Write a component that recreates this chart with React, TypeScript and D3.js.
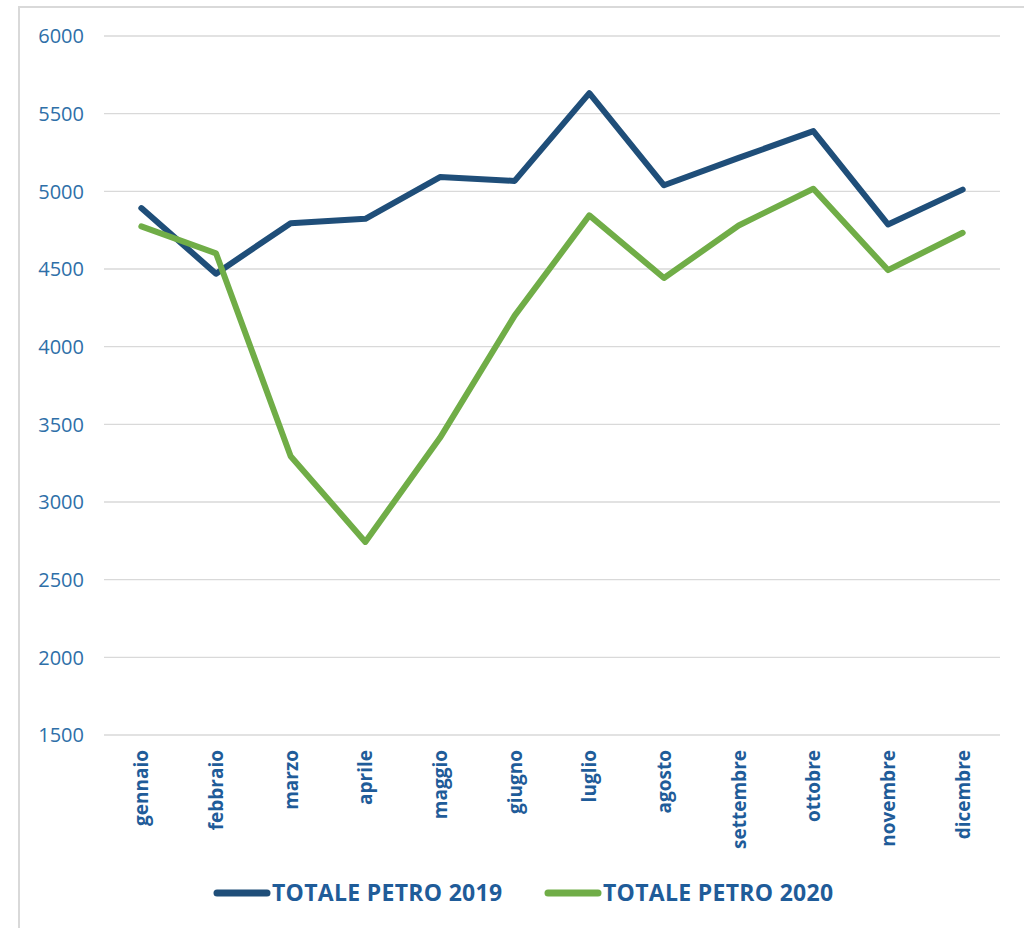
import * as d3 from "d3";

const months = ["gennaio", "febbraio", "marzo", "aprile", "maggio", "giugno", "luglio", "agosto", "settembre", "ottobre", "novembre", "dicembre"];
const petro2019 = [4892, 4470, 4795, 4823, 5092, 5067, 5632, 5039, 5215, 5388, 4787, 5011];
const petro2020 = [4774, 4601, 3295, 2743, 3413, 4200, 4845, 4442, 4780, 5017, 4493, 4733];
const yTicks = [1500, 2000, 2500, 3000, 3500, 4000, 4500, 5000, 5500, 6000];
const seriesNames = ["TOTALE PETRO 2019", "TOTALE PETRO 2020"];

const W = 1024;
const H = 928;
const colors = ["#1F4E79", "#70AD47"];
const labelBlue = "#2E6FA8";
const darkBlue = "#1F5C99";
const font = "'Open Sans', 'Noto Sans', sans-serif";

const x = d3.scaleBand<string>().domain(months).range([104, 1000]);
const y = d3.scaleLinear().domain([1500, 6000]).range([735, 36]);

const line = d3
  .line<number>()
  .x((_, i) => (x(months[i]) as number) + x.bandwidth() / 2)
  .y((d) => y(d));

export default function App() {
  const series = [petro2019, petro2020];
  const legendX = [217, 548];
  return (
    <svg width={W} height={H} style={{ position: "absolute", left: 0, top: 0, background: "#fff" }}>
      {/* chart frame */}
      <path d={`M19,${H} V7 H${W}`} fill="none" stroke="#D9D9D9" strokeWidth={2} />

      {/* grid + y labels */}
      {yTicks.map((t) => (
        <g key={t}>
          <line x1={104} x2={1000} y1={y(t)} y2={y(t)} stroke="#D9D9D9" strokeWidth={1.3} />
          <text x={84} y={y(t)} dy="0.36em" textAnchor="end" fontFamily={font} fontSize={20} fill={labelBlue}>
            {t}
          </text>
        </g>
      ))}

      {/* x labels */}
      {months.map((m) => {
        const cx = (x(m) as number) + x.bandwidth() / 2;
        return (
          <text
            key={m}
            transform={`translate(${cx},750) rotate(-90)`}
            dy="0.36em"
            textAnchor="end"
            fontFamily={font}
            fontWeight="bold"
            fontSize={19}
            fill={darkBlue}
          >
            {m}
          </text>
        );
      })}

      {/* lines */}
      {series.map((s, i) => (
        <path key={i} d={line(s) ?? ""} fill="none" stroke={colors[i]} strokeWidth={6} strokeLinejoin="round" strokeLinecap="round" />
      ))}

      {/* legend */}
      {seriesNames.map((n, i) => (
        <g key={n}>
          <line x1={legendX[i]} x2={legendX[i] + 50} y1={893} y2={893} stroke={colors[i]} strokeWidth={7} strokeLinecap="round" />
          <text x={legendX[i] + 55} y={893} dy="0.36em" fontFamily={font} fontWeight="bold" fontSize={23} letterSpacing={0.3} fill={darkBlue}>
            {n}
          </text>
        </g>
      ))}
    </svg>
  );
}
